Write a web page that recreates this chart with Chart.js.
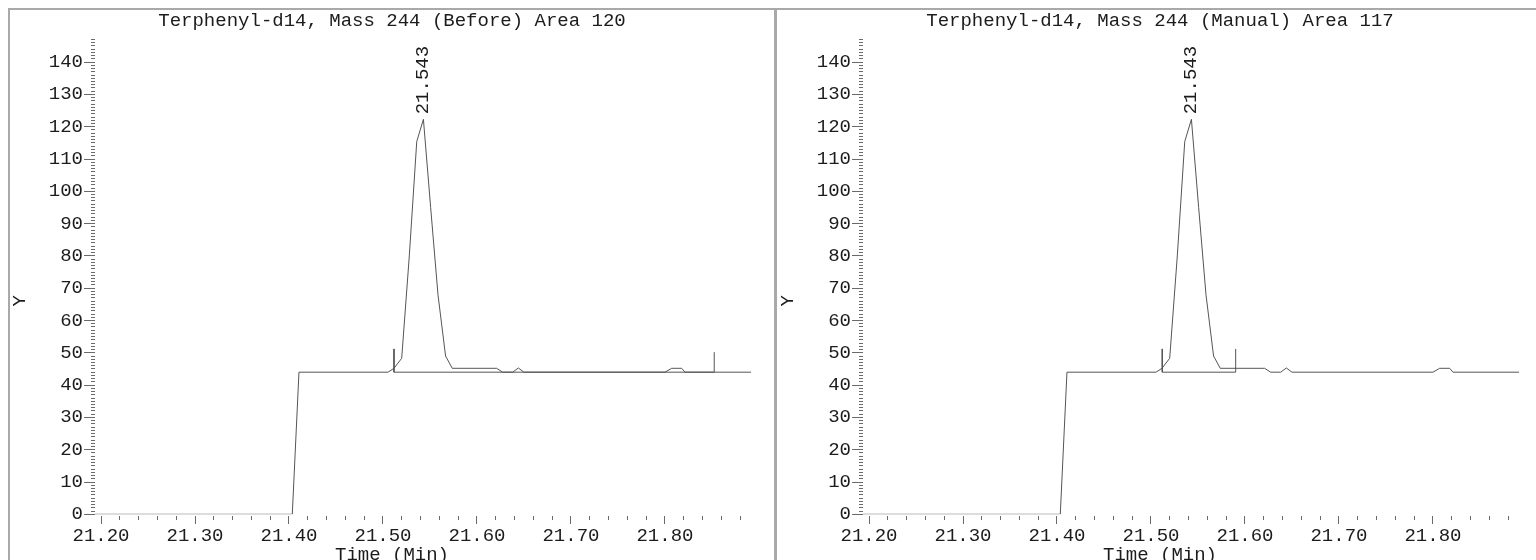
<!DOCTYPE html>
<html><head><meta charset="utf-8">
<script src="https://cdn.jsdelivr.net/npm/chart.js@4.4.0/dist/chart.umd.min.js"></script>
<style>
html,body{margin:0;padding:0;background:#fff;overflow:hidden;width:1536px;height:560px;position:relative}
.rule{position:absolute;background:#a9a9a9}
canvas{position:absolute}
</style></head><body>
<div class="rule" style="left:8px;top:8px;width:1528px;height:2px"></div>
<div class="rule" style="left:8px;top:8px;width:2px;height:552px"></div>
<div class="rule" style="left:774px;top:8px;width:3px;height:552px"></div>
<canvas id="c1" width="764" height="554" style="left:10px;top:10px"></canvas>
<canvas id="c2" width="764" height="554" style="left:778px;top:10px"></canvas>
<script>
// ---- data ----
const titles = ['Terphenyl-d14, Mass 244 (Before) Area 120', 'Terphenyl-d14, Mass 244 (Manual) Area 117'];
const xAxisName = 'Time (Min)';
const yAxisName = 'Y';
const xTickLabels = ['21.20','21.30','21.40','21.50','21.60','21.70','21.80'];
const yTickLabels = ['0','10','20','30','40','50','60','70','80','90','100','110','120','130','140'];
const xMinorFirst = 21.20, xMinorLast = 21.88, xMinorStep = 0.02;
const yMin = 0, yMax = 147, yMinorStep = 1;
const xMin = 21.1936, xMax = 21.916;

const times  = [21.1936, 21.4035, 21.4106, 21.5053, 21.5117, 21.5199, 21.5280, 21.5359, 21.5430, 21.5507, 21.5585, 21.5666, 21.5737, 21.6209, 21.6273, 21.6380, 21.6440, 21.6500, 21.8000, 21.8071, 21.8178, 21.8213, 21.8915];
const signal = [0,       0,       44,      44,      45.2,    48.3,    80,      115.4,   122.3,   95,      68,      49,      45.2,    45.2,    44,      44,      45.3,    44,      44,      45.2,    45.2,    44,      44];

const baselineBeforeX = [21.5117, 21.5117, 21.8524, 21.8524];
const baselineBeforeY = [51.2, 44, 44, 50.2];
const baselineManualX = [21.5120, 21.5120, 21.5901, 21.5901];
const baselineManualY = [51.2, 44, 44, 51.2];

const peakTime = 21.543, peakValue = 122.3, peakLabel = '21.543';

// ---- helpers ----
const FAM = '"Liberation Mono", "DejaVu Sans Mono", monospace';
const TXT = '#1c1c1c';
const LINE = '#555555';
const TICK = '#6a6a6a';
const xTickValues = [];
for (let v = xMinorFirst; v <= xMinorLast + 1e-9; v += xMinorStep) xTickValues.push(+v.toFixed(2));
const yTickValues = [];
for (let v = yMin; v <= yMax; v += yMinorStep) yTickValues.push(v);
const xIsMajor = v => xTickLabels.includes((+v).toFixed(2));
const yIsMajor = v => yTickLabels.includes(String(v));
const pts = (xs, ys) => xs.map((x, i) => ({x, y: ys[i]}));

const textPlugin = {
  id: 'extraText',
  afterDatasetsDraw(chart) {
    const ctx = chart.ctx;
    ctx.save();
    ctx.font = '19px ' + FAM;
    ctx.fillStyle = TXT;
    const px = chart.scales.x.getPixelForValue(peakTime);
    const py = chart.scales.y.getPixelForValue(peakValue);
    ctx.translate(px, py - 5);
    ctx.rotate(-Math.PI / 2);
    ctx.textAlign = 'left';
    ctx.textBaseline = 'middle';
    ctx.fillText(peakLabel, 0, 0);
    ctx.restore();

    ctx.save();
    ctx.font = '19px ' + FAM;
    ctx.fillStyle = TXT;
    ctx.translate(9.5, chart.height * 0.525);
    ctx.rotate(-Math.PI / 2);
    ctx.textAlign = 'center';
    ctx.textBaseline = 'middle';
    ctx.fillText(yAxisName, 0, 0);
    ctx.restore();
  }
};

function makeChart(id, title, bx, by) {
  const font = {family: FAM, size: 19, weight: 'normal', lineHeight: 1};
  return new Chart(document.getElementById(id), {
    type: 'line',
    data: {
      datasets: [
        {data: pts(times, signal), borderColor: LINE, borderWidth: 1, pointRadius: 0, tension: 0, fill: false},
        {data: pts(bx, by), borderColor: LINE, borderWidth: 1, pointRadius: 0, tension: 0, fill: false}
      ]
    },
    options: {
      responsive: false,
      animation: false,
      events: [],
      layout: {padding: 0},
      plugins: {
        legend: {display: false},
        tooltip: {enabled: false},
        title: {display: true, text: title, color: TXT, font, padding: {top: 1, bottom: 9.5}},
        subtitle: {display: true, position: 'bottom', text: xAxisName, color: TXT, font, padding: 0}
      },
      scales: {
        x: {
          type: 'linear', min: xMin, max: xMax,
          afterBuildTicks: s => { s.ticks = xTickValues.map(v => ({value: v})); },
          afterFit: s => { s.height = 30.7; },
          border: {display: false},
          grid: {
            drawOnChartArea: false, drawTicks: true, tickLength: 10, tickColor: TICK, tickWidth: 1,
            tickBorderDash: c => (c.tick && xIsMajor(c.tick.value)) ? [0, 2, 8, 100] : [0, 2, 4, 100]
          },
          ticks: {
            autoSkip: false, maxRotation: 0, minRotation: 0, padding: 2, color: TXT, font,
            callback: v => xIsMajor(v) ? (+v).toFixed(2) : ''
          }
        },
        y: {
          type: 'linear', min: yMin, max: yMax,
          afterBuildTicks: s => { s.ticks = yTickValues.map(v => ({value: v})); },
          afterFit: s => { s.width = 85; },
          border: {display: false},
          grid: {
            drawOnChartArea: false, drawTicks: true, tickLength: 11, tickColor: TICK, tickWidth: 1,
            tickBorderDash: c => (c.tick && yIsMajor(c.tick.value)) ? [] : [0, 7, 4, 100]
          },
          ticks: {
            autoSkip: false, padding: 1, color: TXT, font,
            callback: v => yIsMajor(v) ? String(v) : ''
          }
        }
      }
    },
    plugins: [textPlugin]
  });
}

makeChart('c1', titles[0], baselineBeforeX, baselineBeforeY);
makeChart('c2', titles[1], baselineManualX, baselineManualY);
</script>
</body></html>
